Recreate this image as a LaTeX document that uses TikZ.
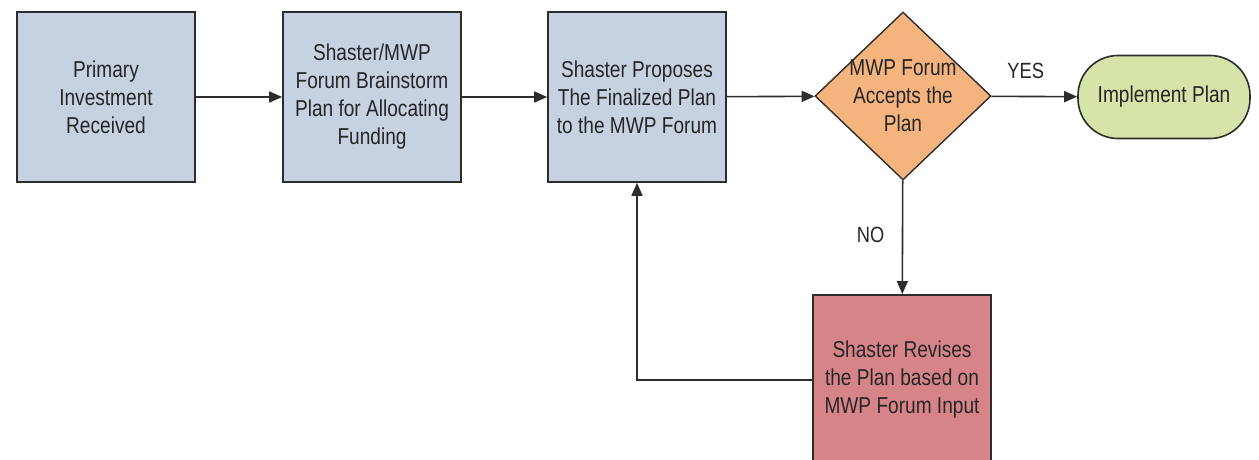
\documentclass[tikz,border=0pt]{standalone}
\usepackage{fontspec}
\setmainfont{Liberation Sans}[FakeStretch=0.83]
\usetikzlibrary{shapes.geometric,arrows.meta}
\definecolor{boxblue}{RGB}{198,210,226}
\definecolor{boxorange}{RGB}{245,180,125}
\definecolor{boxgreen}{RGB}{214,228,170}
\definecolor{boxred}{RGB}{214,132,136}
\definecolor{edge}{RGB}{45,45,45}
\begin{document}
\begin{tikzpicture}[x=1pt,y=-1pt,
  txt/.style={font=\fontsize{23}{28}\selectfont, text=black!85, align=center},
  procbox/.style={txt, draw=edge, line width=1.6pt, minimum width=178pt, minimum height=170pt, inner sep=2pt},
  decbox/.style={draw=edge, line width=1.4pt, fill=boxorange, diamond, minimum width=176pt, minimum height=168pt, inner sep=0pt},
  termbox/.style={txt, draw=edge, line width=1.6pt, fill=boxgreen, rounded corners=40pt, minimum width=172pt, minimum height=83pt},
  conn/.style={draw=edge, line width=1.6pt, -{Triangle[length=13pt,width=11pt]}},
  lbl/.style={font=\fontsize{22}{25}\selectfont, text=black!85}]
\useasboundingbox (0,0) rectangle (1259,459);
\fill[white] (0,0) rectangle (1259,459);
\node[procbox, fill=boxblue] (a) at (106,97) {Primary\\Investment\\Received};
\node[procbox, fill=boxblue] (b) at (372,97) {Shaster/MWP\\Forum Brainstorm\\Plan for Allocating\\Funding};
\node[procbox, fill=boxblue] (c) at (637,97) {Shaster Proposes\\The Finalized Plan\\to the MWP Forum};
\node[decbox, label={[txt]center:{MWP Forum\\Accepts the\\Plan}}] (d) at (903,96) {};
\node[termbox] (e) at (1164,97) {Implement Plan};
\node[procbox, fill=boxred, anchor=north] (f) at (902,294) {Shaster Revises\\the Plan based on\\MWP Forum Input};
\draw[conn] (a) -- (b);
\draw[conn] (b) -- (c);
\draw[conn] (c) -- (d);
\draw[conn] (d) -- node[lbl, above=14pt, pos=0.4] {YES} (e);
\draw[conn] (d) -- node[lbl, left=14pt, pos=0.48] {NO} (f);
\draw[conn] (f.west |- 0,380) -| (c.south);
\end{tikzpicture}
\end{document}
